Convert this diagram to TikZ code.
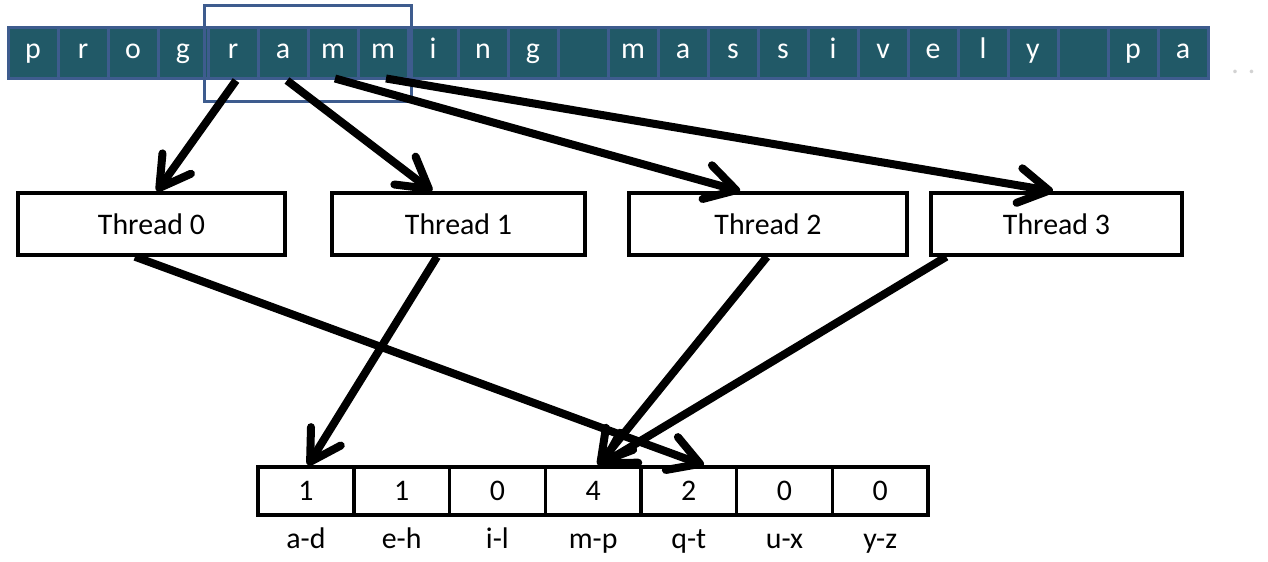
\documentclass[tikz,border=0pt]{standalone}
\usepackage{fontspec}
\setmainfont{Carlito}
\usetikzlibrary{arrows.meta,positioning,fit}
\definecolor{tile}{RGB}{33,89,103}
\definecolor{tileframe}{RGB}{62,92,142}

\begin{document}
\begin{tikzpicture}[
  >={Straight Barb[length=0.6cm,width=0.7cm,round]},
  font=\fontsize{17}{20}\selectfont,
  %% letter tiles of the input string
  tilenode/.style={draw=tileframe,fill=tile,line width=0.06cm,text=white,
                   minimum width=1cm,minimum height=1.02cm,inner sep=0pt,
                   text height=1.6ex,text depth=0.45ex},
  %% section of the string handled in one step
  winbox/.style={draw=tileframe,line width=0.06cm,inner xsep=0.04cm,inner ysep=0.42cm},
  %% threads and histogram bins: plain boxes
  threadnode/.style={draw,line width=0.07cm,minimum width=#1,minimum height=1.24cm,
                     inner sep=0pt},
  threadnode/.default=5cm,
  binnode/.style={draw,line width=0.07cm,minimum width=1.914cm,minimum height=0.96cm,
                  inner sep=0pt},
  binlabel/.style={text height=1.6ex,text depth=0.45ex,inner sep=0pt},
  %% thick open arrows
  hitarrow/.style={->,line width=0.16cm}
]
\useasboundingbox (0,0) rectangle (25.36,11.24);

%% ---- INPUT STRING (top) ----
\foreach \ch [count=\i from 0] in {p,r,o,g,r,a,m,m,i,n,g,{},m,a,s,s,i,v,e,l,y,{},p,a}
  \node[tilenode] (c\i) at ({0.66+\i},10.17) {\ch};
\node[winbox,fit=(c4)(c7)] (win) {};
\node[text=gray!35] (more) at (24.87,9.8) {. .};

%% ---- THREADS (middle) ----
\node[threadnode=5.34cm] (th0) at (3.03,6.76)  {Thread 0};
\node[threadnode=5.06cm] (th1) at (9.17,6.76)  {Thread 1};
\node[threadnode=5.56cm] (th2) at (15.36,6.76) {Thread 2};
\node[threadnode=5.02cm] (th3) at (21.13,6.76) {Thread 3};

%% ---- HISTOGRAM BINS (bottom) ----
\foreach \v/\lab [count=\i from 0] in {1/a-d,1/e-h,0/i-l,4/m-p,2/q-t,0/u-x,0/y-z}{
  \node[binnode] (b\i) at ({6.12+1.914*\i},1.42) {\v};
  \node[binlabel,below=0.36cm of b\i] (l\i) {\lab};
}

%% ---- STRING -> THREADS ----
\draw[hitarrow] ([xshift=0.06cm]c4.south) -- ([xshift=0.11cm]th0.north);
\draw[hitarrow] ([xshift=0.08cm]c5.south) -- ([xshift=-0.53cm]th1.north);
\draw[hitarrow] ([xshift=0.04cm,yshift=0.04cm]c6.south) -- ([xshift=-0.56cm]th2.north);
\draw[hitarrow] ([xshift=0.06cm,yshift=0.04cm]c7.south) -- ([xshift=-0.07cm]th3.north);

%% ---- THREADS -> BINS ----
\draw[hitarrow] ([xshift=-0.33cm]th0.south) -- ([xshift=0.30cm]b4.north);
\draw[hitarrow] ([xshift=-0.43cm]th1.south) -- ([xshift=0.04cm]b0.north);
\draw[hitarrow] ([xshift=-0.02cm]th2.south) -- ([xshift=0.10cm]b3.north);
\draw[hitarrow] ([xshift=0.34cm]th3.south west) -- ([xshift=0.14cm]b3.north);

\end{tikzpicture}
\end{document}
